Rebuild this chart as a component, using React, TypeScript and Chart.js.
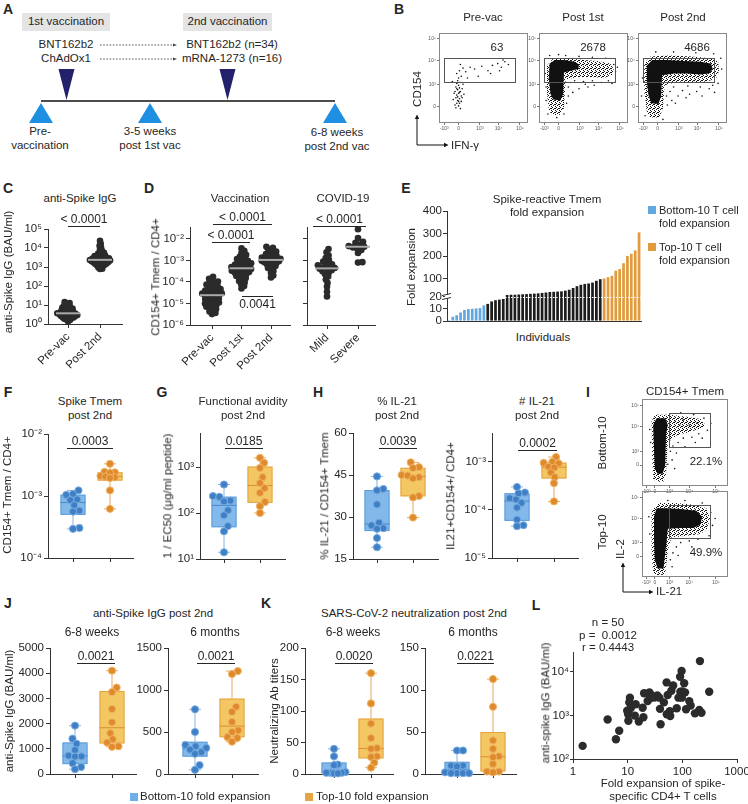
import React, { useEffect, useRef } from 'react';
import { Chart, registerables } from 'chart.js';

Chart.register(...registerables);

const FONT = '"Liberation Sans", Arial, Helvetica, sans-serif';
const INK = '#262626';
const AXIS = '#333333';

/* ============================ DATA ============================ */
// C – anti-Spike IgG (BAU/ml)
const cCategories = ['Pre-vac', 'Post 2nd'];
const cPreVac = [1.4, 1.6, 1.7, 1.9, 2.0, 2.0, 2.2, 2.3, 2.3, 2.5, 2.6, 2.7, 2.7, 2.9, 3.0, 3.0, 3.1, 3.3, 3.4, 3.4, 3.6, 3.7, 3.9, 4.0, 4.2, 4.5, 4.6, 4.9, 5.1, 5.4, 5.8, 6.1, 6.5, 7.0, 7.3, 8.1, 8.6, 9.0, 10.2, 11.5, 12.8, 14.1];
const cPost2nd = [780, 820, 950, 1050, 1150, 1200, 1300, 1350, 1420, 1500, 1550, 1600, 1680, 1720, 1800, 1850, 1900, 1980, 2050, 2100, 2150, 2200, 2280, 2350, 2400, 2480, 2550, 2650, 2750, 2850, 2950, 3100, 3250, 3400, 3600, 3800, 4000, 4300, 4700, 5100, 5600, 6200, 7100, 8200, 10500, 13000, 16500, 24000];
const cTicks = [1, 10, 100, 1000, 10000, 100000];

// D – CD154+ Tmem / CD4+
const dVacCategories = ['Pre-vac', 'Post 1st', 'Post 2nd'];
const dPreVac = [3.2e-6, 3.6e-6, 4.2e-6, 5.0e-6, 5.6e-6, 6.3e-6, 7.0e-6, 7.8e-6, 8.5e-6, 9.4e-6, 1.0e-5, 1.1e-5, 1.2e-5, 1.35e-5, 1.45e-5, 1.6e-5, 1.7e-5, 1.85e-5, 2.0e-5, 2.2e-5, 2.35e-5, 2.5e-5, 2.7e-5, 2.9e-5, 3.0e-5, 3.2e-5, 3.4e-5, 3.7e-5, 4.0e-5, 4.3e-5, 4.7e-5, 5.1e-5, 5.6e-5, 6.2e-5, 6.8e-5, 7.5e-5, 8.3e-5, 9.2e-5, 1.05e-4, 1.2e-4, 1.4e-4, 1.75e-4];
const dPost1st = [5.0e-5, 6.5e-5, 8.0e-5, 9.5e-5, 1.1e-4, 1.3e-4, 1.5e-4, 1.7e-4, 1.9e-4, 2.1e-4, 2.3e-4, 2.5e-4, 2.7e-4, 2.9e-4, 3.1e-4, 3.3e-4, 3.5e-4, 3.8e-4, 4.0e-4, 4.3e-4, 4.6e-4, 4.9e-4, 5.2e-4, 5.6e-4, 6.0e-4, 6.4e-4, 6.9e-4, 7.4e-4, 8.0e-4, 8.7e-4, 9.5e-4, 1.05e-3, 1.15e-3, 1.3e-3, 1.5e-3, 1.8e-3, 2.2e-3, 2.8e-3, 3.6e-3];
const dPost2nd = [1.6e-4, 2.0e-4, 2.6e-4, 3.2e-4, 3.8e-4, 4.4e-4, 5.0e-4, 5.5e-4, 6.0e-4, 6.6e-4, 7.1e-4, 7.6e-4, 8.1e-4, 8.6e-4, 9.0e-4, 9.5e-4, 1.0e-3, 1.05e-3, 1.1e-3, 1.15e-3, 1.2e-3, 1.28e-3, 1.35e-3, 1.45e-3, 1.55e-3, 1.65e-3, 1.8e-3, 1.95e-3, 2.1e-3, 2.3e-3, 2.6e-3, 2.9e-3, 3.3e-3, 3.8e-3, 4.3e-3];
const dCovidCategories = ['Mild', 'Severe'];
const dMild = [2.1e-5, 3.5e-5, 6.0e-5, 9.0e-5, 1.3e-4, 1.8e-4, 2.3e-4, 2.7e-4, 3.1e-4, 3.5e-4, 3.8e-4, 4.1e-4, 4.4e-4, 4.8e-4, 5.3e-4, 5.9e-4, 6.6e-4, 7.5e-4, 8.8e-4, 1.05e-3, 1.3e-3, 1.7e-3, 2.4e-3, 3.4e-3];
const dSevere = [7.9e-4, 8.3e-4, 2.2e-3, 3.0e-3, 3.6e-3, 4.0e-3, 4.3e-3, 4.6e-3, 5.4e-3, 6.5e-3, 7.2e-3, 1.1e-2, 2.8e-2];
const dTicks = [1e-6, 1e-5, 1e-4, 1e-3, 1e-2];

// E – fold expansion per individual (sorted)
const eBottom10 = [0.8, 3.5, 4.8, 7, 9, 9.8, 10, 10.3, 10.6, 12.8];
const eMiddle = [14, 16, 17, 17.5, 18, 27, 28, 28, 29, 30, 31, 32, 33, 34, 36, 38, 40, 41, 42, 43, 46, 50, 58, 66, 72, 76, 78, 82, 90, 97];
const eTop10 = [100, 106, 112, 135, 142, 168, 200, 210, 225, 305];
const eTickValues = [0, 10, 20, 100, 200, 300, 400];

// F – Spike Tmem post 2nd
const fBottom10 = [1.23e-3, 1.08e-3, 1.04e-3, 8.8e-4, 8.6e-4, 7.1e-4, 5.8e-4, 5.6e-4, 3.05e-4, 2.95e-4];
const fTop10 = [3.3e-3, 2.45e-3, 2.4e-3, 2.35e-3, 2.1e-3, 2.05e-3, 2.0e-3, 1.95e-3, 1.23e-3, 6.2e-4];
// G – functional avidity
const gBottom10 = [417, 234, 224, 186, 178, 115, 89, 52, 40, 14];
const gTop10 = [1585, 1230, 955, 603, 447, 347, 275, 174, 141, 100];
// H – % IL-21 and # IL-21
const hPctBottom10 = [44.5, 40, 39.5, 34.5, 28, 27, 26, 25.8, 22.5, 19.2];
const hPctTop10 = [49.5, 47.8, 47.5, 45, 44.8, 44.2, 43.8, 37.5, 37, 29.8];
const hNumBottom10 = [3.0e-4, 2.3e-4, 2.2e-4, 1.75e-4, 1.65e-4, 1.4e-4, 1.12e-4, 6.3e-5, 4.8e-5, 4.6e-5];
const hNumTop10 = [1.26e-3, 1.0e-3, 9.5e-4, 9.3e-4, 7.9e-4, 7.6e-4, 6.0e-4, 4.8e-4, 3.6e-4, 1.5e-4];
// J – anti-Spike IgG post 2nd
const jWeeksBottom10 = [1920, 1400, 1200, 950, 730, 700, 690, 430, 280, 190];
const jWeeksTop10 = [4100, 3430, 3250, 2580, 2050, 1620, 1380, 1250, 1100, 1080];
const jMonthsBottom10 = [770, 500, 345, 330, 310, 290, 260, 240, 105, 50];
const jMonthsTop10 = [1225, 1190, 800, 740, 620, 520, 500, 440, 430, 385];
// K – neutralizing titers
const kWeeksBottom10 = [40, 28, 15, 14, 3, 2, 2, 2, 1, 1];
const kWeeksTop10 = [160, 112, 80, 57, 41, 40, 28, 27, 18, 10];
const kMonthsBottom10 = [28, 28, 10, 10, 9, 2, 1, 1, 1, 1];
const kMonthsTop10 = [113, 80, 40, 30, 21, 20, 12, 3, 3, 2];
// L – correlation
const lFold = [1.5, 4.3, 6.1, 7, 9.8, 10.3, 10.7, 11, 11.4, 14, 13.5, 16, 18.8, 19.4, 20, 23.2, 25, 25.5, 30.8, 34.8, 38, 39, 40, 46, 51.6, 52, 54, 59, 60, 68, 79, 85, 91, 92, 97, 98, 100, 108, 112, 117, 134, 142, 170, 204, 210, 224, 310, 10.2, 27.5, 63];
const lIgG = [200, 810, 285, 445, 1290, 760, 2000, 2570, 1480, 1820, 995, 725, 1510, 910, 3240, 2140, 3400, 2500, 2590, 2880, 2570, 1420, 630, 2000, 5760, 1070, 2950, 1260, 970, 4900, 1470, 2570, 7740, 3530, 10500, 2570, 3550, 5500, 3400, 1390, 2140, 1690, 1120, 1340, 17800, 1160, 3500, 1070, 2880, 3700];

// Flow cytometry (display units 0-100 on biexponential axes)
const flowBXTicks = [6, 22, 46, 67, 91];
const flowIXTicks = [5, 15, 32, 55, 86];
const flowXLabels = ['-10³', '0', '10³', '10⁴', '10⁵'];
const flowBYTicks = [18, 43, 69, 94];
const flowIYTicks = [24, 40, 68, 92];
const flowYLabels = ['0', '10³', '10⁴', '10⁵'];
const b1Events = [[18,20],[20,22],[22,19],[21,25],[19,28],[23,27],[25,30],[20,31],[22,33],[18,35],[24,35],[21,37],[23,39],[19,40],[26,38],[22,42],[20,44],[24,45],[27,43],[21,47],[17,33],[25,24],[28,32],[16,26],[23,22],[26,28],[19,17],[24,16],[22,50],[25,52],[20,55],[23,58],[27,61],[24,65],[30,57],[35,62],[40,60],[48,63],[55,58],[60,64],[66,66],[70,62],[74,68],[78,65],[72,70],[58,55],[44,52],[68,58],[32,50],[15,46],[21,29],[23,34],[20,38],[22,24]];
const b2Core = [[[13,32],[16,26],[24,25],[27,32],[28,56],[36,58],[44,60],[45,65],[40,68],[28,70],[18,70],[12,66],[11,50]]];
const b2Halo = [[[11,14],[15,9],[23,9],[28,16],[30,48],[42,51],[58,51],[72,50],[82,53],[84,60],[80,66],[66,69],[50,70],[32,72],[16,72],[9,64],[9,34]]];
const b2Events = [[8,40],[7,55],[33,40],[35,45],[40,47],[50,46],[60,47],[70,45],[78,47],[86,57],[84,65],[75,72],[60,73],[45,74],[30,75],[22,76],[12,75],[55,40],[45,38],[62,42],[33,30],[31,22],[8,25],[10,10],[20,6],[28,10],[88,62],[82,44],[52,43],[38,34]];
const b3Core = [[[12,30],[15,22],[23,21],[26,30],[27,53],[40,55],[55,55],[70,54],[80,55],[84,60],[82,66],[70,68],[52,69],[32,70],[16,70],[10,64],[10,45]]];
const b3Halo = [[[10,12],[14,6],[24,6],[28,16],[30,42],[45,46],[62,45],[78,46],[88,50],[91,58],[90,68],[82,72],[60,74],[35,75],[14,74],[7,66],[7,35]]];
const b3Events = [[5,50],[4,30],[32,30],[36,35],[50,36],[66,35],[80,38],[90,44],[94,60],[93,72],[85,77],[65,78],[40,79],[20,79],[33,20],[38,25],[8,8],[28,4],[45,30],[58,32],[72,30],[54,28],[86,34],[42,22],[40,40],[56,41],[70,40],[84,42]];
const i1Core = [[[15,20],[18,14],[24,14],[27,24],[28,60],[30,70],[27,78],[17,78],[13,70],[14,40]]];
const i1Halo = [[[13,8],[17,5],[25,5],[28,14],[30,50],[40,58],[55,62],[68,66],[74,70],[68,77],[50,80],[32,82],[15,82],[11,74],[12,30]]];
const i1Events = [[33,40],[36,46],[42,50],[48,55],[58,56],[66,60],[76,64],[80,72],[72,78],[60,82],[45,84],[35,30],[40,38],[10,50],[9,65],[30,25],[38,20],[50,45],[62,50],[70,55],[55,70],[64,72],[44,70],[38,75],[48,76]];
const i2Core = [[[15,20],[18,10],[25,10],[28,36],[30,56],[45,57],[60,57],[68,61],[70,70],[63,77],[45,79],[28,80],[17,80],[14,70],[14,40]]];
const i2Halo = [[[13,4],[19,2],[27,3],[30,30],[34,46],[52,48],[68,50],[76,56],[79,68],[75,80],[60,84],[40,86],[20,86],[11,78],[11,30]]];
const i2Events = [[33,20],[36,28],[40,35],[45,40],[55,42],[65,44],[78,48],[82,60],[80,75],[70,86],[50,89],[30,89],[9,50],[8,70],[35,12],[42,25],[85,68],[58,35]];
const bGate = [6, 85, 46, 72];
const iGate = [31, 79, 45, 84];

/* ============================ STYLES ============================ */
const DARK = { fill: '#2b2b2b', stroke: '#2b2b2b' };
const BLUE = { fill: '#3E7FC5', stroke: '#78ACE0', boxFill: '#82B8EA', boxStroke: '#5D9EDB', whisker: '#86B6E4', median: '#4A89CC' };
const ORANGE = { fill: '#DF8A2B', stroke: '#F0B468', boxFill: '#F3C762', boxStroke: '#E6A446', whisker: '#E8A860', median: '#DB8E35' };
const BAR_BLUE = '#62A6E2';
const BAR_ORANGE = '#E19A3C';
const NAVY = '#23216b';
const SKY = '#1f8fe3';

/* ============================ HELPERS ============================ */
const SUP: any = { '-': '⁻', '0': '⁰', '1': '¹', '2': '²', '3': '³', '4': '⁴', '5': '⁵', '6': '⁶', '7': '⁷', '8': '⁸', '9': '⁹' };
const pow10 = (v: number) => '10' + String(Math.round(Math.log10(v))).split('').map((c) => SUP[c]).join('');

function quantile(s: number[], p: number) {
  const n = s.length;
  const pos = p * (n + 1) - 1;
  if (pos <= 0) return s[0];
  if (pos >= n - 1) return s[n - 1];
  const lo = Math.floor(pos);
  return s[lo] + (pos - lo) * (s[lo + 1] - s[lo]);
}
function stats(vals: number[]) {
  const s = [...vals].sort((a, b) => a - b);
  return { min: s[0], max: s[s.length - 1], q1: quantile(s, 0.25), med: quantile(s, 0.5), q3: quantile(s, 0.75) };
}

function swarm(py: number[], d: number) {
  const order = py.map((_, i) => i).sort((a, b) => py[a] - py[b]);
  const placed: { x: number; y: number }[] = [];
  const out = new Array(py.length).fill(0);
  for (const i of order) {
    const y = py[i];
    const cands = [0];
    for (const p of placed) {
      const dy = Math.abs(p.y - y);
      if (dy < d) {
        const dx = Math.sqrt(d * d - dy * dy);
        cands.push(p.x + dx, p.x - dx);
      }
    }
    cands.sort((a, b) => Math.abs(a) - Math.abs(b));
    let chosen = 0;
    for (const c of cands) {
      if (placed.every((p) => (p.x - c) ** 2 + (p.y - y) ** 2 >= d * d - 1e-6)) { chosen = c; break; }
    }
    placed.push({ x: chosen, y });
    out[i] = chosen;
  }
  return out;
}
// shrink the spacing until the swarm fits within +-maxHalf pixels
function swarmFit(py: number[], d: number, maxHalf: number) {
  let dd = d;
  let offs = swarm(py, dd);
  for (let k = 0; k < 30 && Math.max(...offs.map(Math.abs)) > maxHalf; k++) {
    dd *= 0.93;
    offs = swarm(py, dd);
  }
  return offs;
}

function baseOptions(pad: any) {
  return {
    responsive: false,
    maintainAspectRatio: false,
    animation: false,
    devicePixelRatio: 1,
    events: [],
    layout: { padding: { left: 0, top: pad.T, right: pad.R, bottom: 0 } },
    plugins: { legend: { display: false }, tooltip: { enabled: false }, title: { display: false } },
  };
}

function axis(o: any) {
  const isX = o.side === 'x';
  const col = o.color || AXIS;
  return {
    type: o.type || 'linear',
    position: isX ? 'bottom' : 'left',
    min: o.min,
    max: o.max,
    offset: false,
    border: { display: !o.noBorder, color: col, width: 1 },
    grid: { display: true, drawOnChartArea: false, drawTicks: true, tickLength: o.tickLen ?? 4, color: col, lineWidth: 1 },
    ticks: {
      display: !!o.labels,
      color: o.labelColor || INK,
      font: { family: FONT, size: o.fontSize || 11.5 },
      padding: o.tickPad ?? 2,
      autoSkip: false,
      maxRotation: o.rotate || 0,
      minRotation: o.rotate || 0,
      callback: (_v: any, i: number) => (o.labels ? o.labels[i] : ''),
    },
    afterBuildTicks: (s: any) => { s.ticks = o.tickVals.map((v: number) => ({ value: v })); },
    afterFit: (s: any) => { if (isX) s.height = o.size; else s.width = o.size; },
  };
}

function boxPlugin(items: any[]) {
  return {
    id: 'boxes',
    beforeDatasetsDraw(chart: any) {
      const { ctx, scales } = chart;
      const xs = scales.x, ys = scales.y;
      for (const it of items) {
        const st = stats(it.values);
        const cx = xs.getPixelForValue(it.x);
        const hw = 12.5, cap = 6;
        const p = (v: number) => ys.getPixelForValue(v);
        ctx.save();
        ctx.lineWidth = 1;
        ctx.strokeStyle = it.style.whisker;
        ctx.beginPath();
        ctx.moveTo(cx, p(st.max)); ctx.lineTo(cx, p(st.q3));
        ctx.moveTo(cx, p(st.q1)); ctx.lineTo(cx, p(st.min));
        ctx.moveTo(cx - cap, p(st.max)); ctx.lineTo(cx + cap, p(st.max));
        ctx.moveTo(cx - cap, p(st.min)); ctx.lineTo(cx + cap, p(st.min));
        ctx.stroke();
        const top = p(st.q3), bot = p(st.q1);
        ctx.fillStyle = it.style.boxFill;
        ctx.fillRect(cx - hw, top, 2 * hw, bot - top);
        ctx.strokeStyle = it.style.boxStroke;
        ctx.strokeRect(cx - hw + 0.5, top + 0.5, 2 * hw - 1, Math.max(bot - top - 1, 0));
        ctx.strokeStyle = it.style.median;
        ctx.beginPath();
        ctx.moveTo(cx - hw, p(st.med)); ctx.lineTo(cx + hw, p(st.med));
        ctx.stroke();
        ctx.restore();
      }
    },
  };
}

function medianPlugin(items: any[]) {
  return {
    id: 'medians',
    afterDatasetsDraw(chart: any) {
      const { ctx, scales } = chart;
      for (const it of items) {
        const st = stats(it.values);
        const cx = scales.x.getPixelForValue(it.x);
        const y = scales.y.getPixelForValue(st.med);
        ctx.save();
        ctx.strokeStyle = '#a9a9a9';
        ctx.lineWidth = 2;
        ctx.beginPath();
        ctx.moveTo(cx - 12, y); ctx.lineTo(cx + 12, y);
        ctx.stroke();
        ctx.restore();
      }
    },
  };
}

function groupChart(area: any, pad: any, o: any) {
  const h = area.b - area.t;
  const isLog = o.yType === 'log';
  const f = (v: number) => (isLog ? Math.log10(v) : v);
  const toPx = (v: number) => ((f(v) - f(o.yMin)) / (f(o.yMax) - f(o.yMin))) * h;
  const step = o.groupPx[1] - o.groupPx[0];
  const xMin = 1 - (o.groupPx[0] - area.l) / step;
  const xMax = xMin + (area.r - area.l) / step;
  const datasets = o.groups.map((g: any, gi: number) => {
    const offs = swarmFit(g.values.map(toPx), o.minDist, o.maxHalf ?? 99);
    return {
      data: g.values.map((v: number, i: number) => ({ x: gi + 1 + offs[i] / step, y: v })),
      showLine: false,
      clip: false,
      pointRadius: o.pointR,
      pointHoverRadius: o.pointR,
      pointBackgroundColor: g.style.fill,
      pointBorderColor: g.style.stroke,
      pointBorderWidth: o.pointBorder ?? 0,
    };
  });
  const plugins: any[] = [];
  if (o.box) plugins.push(boxPlugin(o.groups.map((g: any, gi: number) => ({ x: gi + 1, values: g.values, style: g.style }))));
  if (o.median) plugins.push(medianPlugin(o.groups.map((g: any, gi: number) => ({ x: gi + 1, values: g.values }))));
  return {
    type: 'scatter',
    data: { datasets },
    options: {
      ...baseOptions(pad),
      scales: {
        x: axis({ side: 'x', size: pad.B, min: xMin, max: xMax, tickVals: o.groups.map((_: any, i: number) => i + 1), labels: o.xLabels || null, rotate: o.rotate || 0 }),
        y: axis({ side: 'y', size: pad.L, type: isLog ? 'logarithmic' : 'linear', min: o.yMin, max: o.yMax, tickVals: o.yTicks, labels: o.yLabels, tickPad: o.yTickPad ?? 2 }),
      },
    },
    plugins,
  };
}

const E_LOW = 25, E_HIGH = 87;
const brk = (v: number) => (v <= 20 ? (v * E_LOW) / 20 : E_LOW + ((v - 20) * E_HIGH) / 380);

function eChart(_area: any, pad: any) {
  const vals = [...eBottom10, ...eMiddle, ...eTop10];
  const colors = [...eBottom10.map(() => BAR_BLUE), ...eMiddle.map(() => '#1c1c1c'), ...eTop10.map(() => BAR_ORANGE)];
  return {
    type: 'bar',
    data: {
      labels: vals.map((_, i) => 'Individual ' + (i + 1)),
      datasets: [{ data: vals.map(brk), backgroundColor: colors, barPercentage: 0.7, categoryPercentage: 1, borderWidth: 0 }],
    },
    options: {
      ...baseOptions(pad),
      scales: {
        x: { type: 'category', offset: true, border: { display: true, color: AXIS, width: 1 }, grid: { display: true, drawOnChartArea: false, drawTicks: false }, ticks: { display: false }, afterFit: (s: any) => { s.height = pad.B; } },
        y: axis({ side: 'y', size: pad.L, min: 0, max: E_LOW + E_HIGH, tickVals: eTickValues.map(brk), labels: eTickValues.map(String), tickPad: 1 }),
      },
    },
    plugins: [{
      id: 'axisBreak',
      afterDatasetsDraw(chart: any) {
        const { ctx, chartArea: ca, scales } = chart;
        const y = Math.round(scales.y.getPixelForValue(E_LOW)) + 0.5;
        ctx.save();
        ctx.strokeStyle = '#ffffff';
        ctx.lineWidth = 1;
        ctx.setLineDash([1.5, 1.5]);
        ctx.beginPath(); ctx.moveTo(ca.left + 1, y); ctx.lineTo(ca.right, y); ctx.stroke();
        ctx.restore();
      },
      afterDraw(chart: any) {
        const { ctx, chartArea: ca, scales } = chart;
        const y = scales.y.getPixelForValue(E_LOW);
        const x = ca.left;
        ctx.save();
        ctx.fillStyle = '#ffffff';
        ctx.fillRect(x - 2, y - 2, 4, 4);
        ctx.strokeStyle = AXIS;
        ctx.lineWidth = 1;
        ctx.beginPath();
        ctx.moveTo(x - 5, y - 1); ctx.lineTo(x + 4, y - 3);
        ctx.moveTo(x - 5, y + 3); ctx.lineTo(x + 4, y + 1);
        ctx.stroke();
        ctx.restore();
      },
    }],
  };
}

function lChart(_area: any, pad: any) {
  return {
    type: 'scatter',
    data: { datasets: [{ data: lFold.map((x, i) => ({ x, y: lIgG[i] })), showLine: false, clip: false, pointRadius: 4.2, pointBackgroundColor: '#2b2b2b', pointBorderWidth: 0 }] },
    options: {
      ...baseOptions(pad),
      scales: {
        x: axis({ side: 'x', size: pad.B, type: 'logarithmic', min: 1, max: 1000, tickVals: [1, 10, 100, 1000], labels: ['1', '10', '100', '1000'] }),
        y: axis({ side: 'y', size: pad.L, type: 'logarithmic', min: 100, max: 28800, tickVals: [100, 1000, 10000], labels: [100, 1000, 10000].map(pow10), tickLen: 3, tickPad: 1 }),
      },
    },
  };
}

let patCanvas: HTMLCanvasElement | null = null;
function patternCanvas() {
  if (!patCanvas) {
    patCanvas = document.createElement('canvas');
    patCanvas.width = 4; patCanvas.height = 4;
    const g = patCanvas.getContext('2d')!;
    g.fillStyle = '#111';
    [[0, 0], [2, 1], [1, 3], [3, 2], [2, 3]].forEach(([a, b]) => g.fillRect(a, b, 1, 1));
  }
  return patCanvas;
}

function flowChart(_area: any, pad: any, f: any) {
  return {
    type: 'scatter',
    data: { datasets: [{ data: f.events.map(([x, y]: number[]) => ({ x, y })), showLine: false, pointRadius: 0.8, pointBackgroundColor: '#111', pointBorderWidth: 0 }] },
    options: {
      ...baseOptions(pad),
      scales: {
        x: axis({ side: 'x', size: pad.B, min: 0, max: 100, tickVals: f.xTicks, labels: flowXLabels, fontSize: 5, tickLen: 2, tickPad: 1, color: '#777', labelColor: '#555', noBorder: true }),
        y: axis({ side: 'y', size: pad.L, min: 0, max: 100, tickVals: f.yTicks, labels: flowYLabels, fontSize: 5, tickLen: 2, tickPad: 1, color: '#777', labelColor: '#555', noBorder: true }),
      },
    },
    plugins: [{
      id: 'flow',
      beforeDatasetsDraw(chart: any) {
        const { ctx, scales: { x, y }, chartArea: ca } = chart;
        const pat = ctx.createPattern(patternCanvas(), 'repeat');
        const poly = (pts: number[][]) => {
          ctx.beginPath();
          pts.forEach(([a, b], i) => {
            const px = x.getPixelForValue(a), py = y.getPixelForValue(b);
            if (i) ctx.lineTo(px, py); else ctx.moveTo(px, py);
          });
          ctx.closePath();
        };
        ctx.save();
        ctx.beginPath(); ctx.rect(ca.left, ca.top, ca.width, ca.height); ctx.clip();
        (f.halo || []).forEach((p: number[][]) => { poly(p); ctx.fillStyle = pat; ctx.fill(); });
        (f.core || []).forEach((p: number[][]) => { poly(p); ctx.fillStyle = '#111'; ctx.fill(); });
        ctx.restore();
      },
      afterDraw(chart: any) {
        const { ctx, scales: { x, y }, chartArea: ca } = chart;
        ctx.save();
        ctx.lineWidth = 1;
        ctx.strokeStyle = '#888';
        ctx.strokeRect(ca.left + 0.5, ca.top + 0.5, ca.width - 1, ca.height - 1);
        const g = f.gate;
        const x1 = Math.round(x.getPixelForValue(g[0])), x2 = Math.round(x.getPixelForValue(g[1]));
        const y1 = Math.round(y.getPixelForValue(g[3])), y2 = Math.round(y.getPixelForValue(g[2]));
        ctx.strokeStyle = '#555';
        ctx.strokeRect(x1 + 0.5, y1 + 0.5, x2 - x1, y2 - y1);
        ctx.restore();
      },
    }],
  };
}

/* ============================ COMPONENTS ============================ */
function ChartCanvas({ area, pad, make }: any) {
  const ref = useRef<HTMLCanvasElement | null>(null);
  useEffect(() => {
    if (!ref.current) return;
    const chart = new Chart(ref.current, make(area, pad) as any);
    return () => chart.destroy();
  }, []);
  const w = area.r - area.l + pad.L + pad.R;
  const h = area.b - area.t + pad.T + pad.B;
  return (
    <canvas ref={ref} width={w} height={h}
      style={{ position: 'absolute', left: area.l - pad.L, top: area.t - pad.T, width: w, height: h }} />
  );
}

const Txt = ({ x, y, s = 11.5, b = false, rot = false, left = false, color = INK, children }: any) => (
  <div style={{
    position: 'absolute', left: x, top: y,
    transform: `translate(${left ? '0' : '-50%'}, -50%)${rot ? ' rotate(-90deg)' : ''}`,
    fontSize: s, fontWeight: b ? 700 : 400, lineHeight: 1, whiteSpace: 'pre', color, fontFamily: FONT,
  }}>{children}</div>
);

const Bracket = ({ x1, x2, y, label, ty }: any) => (
  <>
    <div style={{ position: 'absolute', left: x1, top: y, width: x2 - x1, height: 0, borderTop: `1px solid ${INK}` }} />
    <Txt x={(x1 + x2) / 2} y={ty} s={12}>{label}</Txt>
  </>
);

const Square = ({ x, y, c }: any) => (
  <div style={{ position: 'absolute', left: x, top: y, width: 8, height: 8, background: c }} />
);

const PAD_BOX = { L: 44, T: 10, R: 10, B: 12 };
const PAD_FLOW = { L: 14, T: 4, R: 6, B: 10 };

const logLabels = (arr: number[]) => arr.map(pow10);

const charts: any[] = [
  { key: 'C', area: { l: 48, t: 229, r: 122, b: 324 }, pad: { L: 44, T: 10, R: 12, B: 52 },
    make: (a: any, p: any) => groupChart(a, p, { yType: 'log', yMin: 1, yMax: 1e5, yTicks: cTicks, yLabels: logLabels(cTicks), groupPx: [68, 100],
      groups: [{ values: cPreVac, style: DARK }, { values: cPost2nd, style: DARK }], minDist: 3.8, maxHalf: 11, pointR: 3.3, xLabels: cCategories, rotate: 45, median: true }) },
  { key: 'Dv', area: { l: 190, t: 227, r: 290, b: 325 }, pad: { L: 34, T: 10, R: 8, B: 52 },
    make: (a: any, p: any) => groupChart(a, p, { yType: 'log', yMin: 1e-6, yMax: 0.0355, yTicks: dTicks, yLabels: logLabels(dTicks), groupPx: [212, 241.5, 271],
      groups: [{ values: dPreVac, style: DARK }, { values: dPost1st, style: DARK }, { values: dPost2nd, style: DARK }], minDist: 4.8, maxHalf: 11, pointR: 3.3, xLabels: dVacCategories, rotate: 45, median: true }) },
  { key: 'Dc', area: { l: 307, t: 227, r: 375, b: 325 }, pad: { L: 8, T: 10, R: 10, B: 52 },
    make: (a: any, p: any) => groupChart(a, p, { yType: 'log', yMin: 1e-6, yMax: 0.0355, yTicks: dTicks, yLabels: null, groupPx: [327, 358],
      groups: [{ values: dMild, style: DARK }, { values: dSevere, style: DARK }], minDist: 5.5, maxHalf: 10, pointR: 3.3, xLabels: dCovidCategories, rotate: 45, median: true }) },
  { key: 'E', area: { l: 447, t: 211, r: 641, b: 323 }, pad: { L: 40, T: 10, R: 6, B: 6 }, make: eChart },
  { key: 'F', area: { l: 48, t: 434, r: 133, b: 558 }, pad: PAD_BOX,
    make: (a: any, p: any) => groupChart(a, p, { yType: 'log', yMin: 1e-4, yMax: 1e-2, yTicks: [1e-4, 1e-3, 1e-2], yLabels: logLabels([1e-4, 1e-3, 1e-2]), groupPx: [73, 110],
      groups: [{ values: fBottom10, style: BLUE }, { values: fTop10, style: ORANGE }], minDist: 6.5, maxHalf: 12, pointR: 3.6, pointBorder: 1, box: true }) },
  { key: 'G', area: { l: 200, t: 433, r: 285, b: 559 }, pad: PAD_BOX,
    make: (a: any, p: any) => groupChart(a, p, { yType: 'log', yMin: 10, yMax: 5500, yTicks: [10, 100, 1000], yLabels: logLabels([10, 100, 1000]), groupPx: [224, 260],
      groups: [{ values: gBottom10, style: BLUE }, { values: gTop10, style: ORANGE }], minDist: 6.5, maxHalf: 12, pointR: 3.6, pointBorder: 1, box: true }) },
  { key: 'H1', area: { l: 353, t: 433, r: 438, b: 559 }, pad: PAD_BOX,
    make: (a: any, p: any) => groupChart(a, p, { yType: 'linear', yMin: 15, yMax: 60, yTicks: [15, 30, 45, 60], yLabels: ['15', '30', '45', '60'], groupPx: [377, 413],
      groups: [{ values: hPctBottom10, style: BLUE }, { values: hPctTop10, style: ORANGE }], minDist: 6.5, maxHalf: 12, pointR: 3.6, pointBorder: 1, box: true }) },
  { key: 'H2', area: { l: 492, t: 433, r: 578, b: 558 }, pad: PAD_BOX,
    make: (a: any, p: any) => groupChart(a, p, { yType: 'log', yMin: 1e-5, yMax: 0.00398, yTicks: [1e-5, 1e-4, 1e-3], yLabels: logLabels([1e-5, 1e-4, 1e-3]), groupPx: [517, 554],
      groups: [{ values: hNumBottom10, style: BLUE }, { values: hNumTop10, style: ORANGE }], minDist: 6.5, maxHalf: 12, pointR: 3.6, pointBorder: 1, box: true }) },
  { key: 'J1', area: { l: 50, t: 648, r: 136, b: 774 }, pad: { L: 48, T: 10, R: 10, B: 12 },
    make: (a: any, p: any) => groupChart(a, p, { yType: 'linear', yMin: 0, yMax: 5000, yTicks: [0, 1000, 2000, 3000, 4000, 5000], yLabels: ['0', '1000', '2000', '3000', '4000', '5000'], groupPx: [75, 112],
      groups: [{ values: jWeeksBottom10, style: BLUE }, { values: jWeeksTop10, style: ORANGE }], minDist: 6.5, maxHalf: 12, pointR: 3.6, pointBorder: 1, box: true }) },
  { key: 'J2', area: { l: 168, t: 648, r: 258, b: 774 }, pad: { L: 40, T: 10, R: 10, B: 12 },
    make: (a: any, p: any) => groupChart(a, p, { yType: 'linear', yMin: 0, yMax: 1500, yTicks: [0, 500, 1000, 1500], yLabels: ['0', '500', '1000', '1500'], groupPx: [195, 232],
      groups: [{ values: jMonthsBottom10, style: BLUE }, { values: jMonthsTop10, style: ORANGE }], minDist: 6.5, maxHalf: 12, pointR: 3.6, pointBorder: 1, box: true }) },
  { key: 'K1', area: { l: 305, t: 648, r: 393, b: 774 }, pad: { L: 36, T: 10, R: 10, B: 12 },
    make: (a: any, p: any) => groupChart(a, p, { yType: 'linear', yMin: 0, yMax: 200, yTicks: [0, 50, 100, 150, 200], yLabels: ['0', '50', '100', '150', '200'], groupPx: [334, 371],
      groups: [{ values: kWeeksBottom10, style: BLUE }, { values: kWeeksTop10, style: ORANGE }], minDist: 6, maxHalf: 12, pointR: 3.6, pointBorder: 1, box: true }) },
  { key: 'K2', area: { l: 425, t: 648, r: 516, b: 774 }, pad: { L: 36, T: 10, R: 10, B: 12 },
    make: (a: any, p: any) => groupChart(a, p, { yType: 'linear', yMin: 0, yMax: 150, yTicks: [0, 50, 100, 150], yLabels: ['0', '50', '100', '150'], groupPx: [457, 493],
      groups: [{ values: kMonthsBottom10, style: BLUE }, { values: kMonthsTop10, style: ORANGE }], minDist: 6, maxHalf: 12, pointR: 3.6, pointBorder: 1, box: true }) },
  { key: 'L', area: { l: 573, t: 652, r: 737, b: 759 }, pad: { L: 36, T: 10, R: 16, B: 20 }, make: lChart },
  { key: 'B1', area: { l: 439, t: 33, r: 528, b: 123 }, pad: PAD_FLOW,
    make: (a: any, p: any) => flowChart(a, p, { events: b1Events, core: [], halo: [], gate: bGate, xTicks: flowBXTicks, yTicks: flowBYTicks }) },
  { key: 'B2', area: { l: 539, t: 33, r: 628, b: 123 }, pad: PAD_FLOW,
    make: (a: any, p: any) => flowChart(a, p, { events: b2Events, core: b2Core, halo: b2Halo, gate: bGate, xTicks: flowBXTicks, yTicks: flowBYTicks }) },
  { key: 'B3', area: { l: 638, t: 33, r: 727, b: 123 }, pad: PAD_FLOW,
    make: (a: any, p: any) => flowChart(a, p, { events: b3Events, core: b3Core, halo: b3Halo, gate: bGate, xTicks: flowBXTicks, yTicks: flowBYTicks }) },
  { key: 'I1', area: { l: 642, t: 399, r: 728, b: 486 }, pad: PAD_FLOW,
    make: (a: any, p: any) => flowChart(a, p, { events: i1Events, core: i1Core, halo: i1Halo, gate: iGate, xTicks: flowIXTicks, yTicks: flowIYTicks }) },
  { key: 'I2', area: { l: 642, t: 491, r: 728, b: 577 }, pad: PAD_FLOW,
    make: (a: any, p: any) => flowChart(a, p, { events: i2Events, core: i2Core, halo: i2Halo, gate: iGate, xTicks: flowIXTicks, yTicks: flowIYTicks }) },
];

function Schematic() {
  return (
    <svg width={748} height={804} style={{ position: 'absolute', left: 0, top: 0 }}>
      {/* A timeline */}
      <line x1={41} y1={101} x2={335} y2={101} stroke="#111" strokeWidth={1.5} />
      <polygon points="58.5,69 74.5,69 66.5,100" fill={NAVY} />
      <polygon points="219.5,69 235.5,69 227.5,100" fill={NAVY} />
      {[41, 150, 335].map((x) => (
        <polygon key={x} points={`${x},103 ${x - 12},123 ${x + 12},123`} fill={SKY} />
      ))}
      {[45, 59].map((y) => (
        <g key={y}>
          <line x1={100} y1={y} x2={173} y2={y} stroke="#444" strokeWidth={0.9} strokeDasharray="1.6 1.6" />
          <polygon points={`173,${y - 1.6} 177,${y} 173,${y + 1.6}`} fill="#444" />
        </g>
      ))}
      {/* B axis arrows */}
      <line x1={417} y1={145} x2={417} y2={118} stroke="#111" strokeWidth={1} />
      <polygon points="414.8,119 417,114.5 419.2,119" fill="#111" />
      <line x1={417} y1={145} x2={445} y2={145} stroke="#111" strokeWidth={1} />
      <polygon points="444,142.8 448.5,145 444,147.2" fill="#111" />
      {/* I axis arrows */}
      <line x1={623} y1={592} x2={623} y2={566} stroke="#111" strokeWidth={1} />
      <polygon points="620.8,567 623,562.5 625.2,567" fill="#111" />
      <line x1={623} y1={592} x2={650} y2={592} stroke="#111" strokeWidth={1} />
      <polygon points="649,589.8 653.5,592 649,594.2" fill="#111" />
    </svg>
  );
}

export default function App() {
  return (
    <div style={{ position: 'absolute', left: 0, top: 0, width: 748, height: 804, background: '#fff', overflow: 'hidden', fontFamily: FONT }}>
      <Schematic />
      {charts.map((c) => <ChartCanvas key={c.key} area={c.area} pad={c.pad} make={c.make} />)}

      {/* Panel letters */}
      {[['A', 8, 9], ['B', 399, 9], ['C', 8, 188], ['D', 149, 188], ['E', 406, 188], ['F', 8, 392], ['G', 162, 392], ['H', 318, 392], ['I', 588, 392], ['J', 8, 603], ['K', 266, 603], ['L', 536, 605]].map(([t, x, y]: any) => (
        <Txt key={t} x={x} y={y} s={14} b>{t}</Txt>
      ))}

      {/* A */}
      <div style={{ position: 'absolute', left: 22, top: 13, width: 88, height: 18, background: '#e4e4e4' }} />
      <div style={{ position: 'absolute', left: 183, top: 13, width: 89, height: 18, background: '#e4e4e4' }} />
      <Txt x={66} y={22}>1st vaccination</Txt>
      <Txt x={227.5} y={22}>2nd vaccination</Txt>
      <Txt x={66} y={45}>BNT162b2</Txt>
      <Txt x={66} y={59}>ChAdOx1</Txt>
      <Txt x={232} y={45}>BNT162b2 (n=34)</Txt>
      <Txt x={232} y={59}>mRNA-1273 (n=16)</Txt>
      <Txt x={40} y={132}>Pre-</Txt>
      <Txt x={40} y={146}>vaccination</Txt>
      <Txt x={150} y={132}>3-5 weeks</Txt>
      <Txt x={150} y={146}>post 1st vac</Txt>
      <Txt x={337} y={133}>6-8 weeks</Txt>
      <Txt x={337} y={147}>post 2nd vac</Txt>

      {/* B */}
      <Txt x={483} y={18}>Pre-vac</Txt>
      <Txt x={583} y={18}>Post 1st</Txt>
      <Txt x={683} y={18}>Post 2nd</Txt>
      <Txt x={497} y={48}>63</Txt>
      <Txt x={593} y={48}>2678</Txt>
      <Txt x={697} y={48}>4686</Txt>
      <Txt x={418} y={89} rot>CD154</Txt>
      <Txt x={451} y={146} left>IFN-γ</Txt>

      {/* C */}
      <Txt x={80} y={199}>anti-Spike IgG</Txt>
      <Bracket x1={68} x2={100} y={226} ty={219} label="< 0.0001" />
      <Txt x={9} y={272} rot>anti-Spike IgG (BAU/ml)</Txt>

      {/* D */}
      <Txt x={240} y={199}>Vaccination</Txt>
      <Txt x={343} y={199}>COVID-19</Txt>
      <Txt x={156} y={277} rot>CD154+ Tmem / CD4+</Txt>
      <Bracket x1={213} x2={272} y={224} ty={217} label="< 0.0001" />
      <Bracket x1={212} x2={250} y={242} ty={235} label="< 0.0001" />
      <Bracket x1={242} x2={273} y={296} ty={304} label="0.0041" />
      <Bracket x1={313} x2={366} y={226} ty={219} label="< 0.0001" />

      {/* E */}
      <Txt x={547} y={200}>Spike-reactive Tmem</Txt>
      <Txt x={547} y={213}>fold expansion</Txt>
      <Txt x={412} y={267} rot>Fold expansion</Txt>
      <Txt x={543} y={338}>Individuals</Txt>
      <Square x={648} y={206} c={BAR_BLUE} />
      <Txt x={659} y={210} left s={11}>Bottom-10 T cell</Txt>
      <Txt x={659} y={223} left s={11}>fold expansion</Txt>
      <Square x={648} y={243} c={BAR_ORANGE} />
      <Txt x={659} y={247} left s={11}>Top-10 T cell</Txt>
      <Txt x={659} y={260} left s={11}>fold expansion</Txt>

      {/* F */}
      <Txt x={90} y={402}>Spike Tmem</Txt>
      <Txt x={90} y={416}>post 2nd</Txt>
      <Bracket x1={67} x2={113} y={448} ty={441} label="0.0003" />
      <Txt x={8} y={495} rot>CD154+ Tmem / CD4+</Txt>

      {/* G */}
      <Txt x={243} y={402}>Functional avidity</Txt>
      <Txt x={243} y={416}>post 2nd</Txt>
      <Bracket x1={225} x2={263} y={448} ty={441} label="0.0185" />
      <Txt x={168} y={496} rot>1 / EC50 (μg/ml peptide)</Txt>

      {/* H */}
      <Txt x={397} y={402}>% IL-21</Txt>
      <Txt x={397} y={416}>post 2nd</Txt>
      <Bracket x1={379} x2={417} y={448} ty={441} label="0.0039" />
      <Txt x={325} y={496} rot>% IL-21 / CD154+ Tmem</Txt>
      <Txt x={537} y={402}># IL-21</Txt>
      <Txt x={537} y={416}>post 2nd</Txt>
      <Bracket x1={518} x2={557} y={450} ty={443} label="0.0002" />
      <Txt x={451} y={496} rot>IL21+CD154+/ CD4+</Txt>

      {/* I */}
      <Txt x={685} y={392}>CD154+ Tmem</Txt>
      <Txt x={603} y={443} rot>Bottom-10</Txt>
      <Txt x={603} y={532} rot>Top-10</Txt>
      <Txt x={706} y={462}>22.1%</Txt>
      <Txt x={706} y={553}>49.9%</Txt>
      <Txt x={621} y={549} rot>IL-2</Txt>
      <Txt x={656} y={592} left>IL-21</Txt>

      {/* J */}
      <Txt x={153} y={614}>anti-Spike IgG post 2nd</Txt>
      <Txt x={92} y={632} s={12}>6-8 weeks</Txt>
      <Txt x={215} y={632} s={12}>6 months</Txt>
      <Bracket x1={77} x2={115} y={663} ty={656} label="0.0021" />
      <Bracket x1={197} x2={235} y={663} ty={656} label="0.0021" />
      <Txt x={10} y={711} rot>anti-Spike IgG (BAU/ml)</Txt>

      {/* K */}
      <Txt x={414} y={614}>SARS-CoV-2 neutralization post 2nd</Txt>
      <Txt x={353} y={632} s={12}>6-8 weeks</Txt>
      <Txt x={473} y={632} s={12}>6 months</Txt>
      <Bracket x1={335} x2={373} y={663} ty={656} label="0.0020" />
      <Bracket x1={457} x2={494} y={663} ty={656} label="0.0221" />
      <Txt x={275} y={711} rot>Neutralizing Ab titers</Txt>

      {/* Bottom legend */}
      <Square x={130} y={793} c="#6FAEE6" />
      <Txt x={140} y={797} left>Bottom-10 fold expansion</Txt>
      <Square x={305} y={793} c="#E6A443" />
      <Txt x={316} y={797} left>Top-10 fold expansion</Txt>

      {/* L */}
      <Txt x={608} y={623}>n = 50</Txt>
      <Txt x={608} y={636}>p =  0.0012</Txt>
      <Txt x={608} y={648}>r = 0.4443</Txt>
      <Txt x={546} y={703} rot>anti-spike IgG (BAU/ml)</Txt>
      <Txt x={663} y={784}>Fold expansion of spike-</Txt>
      <Txt x={663} y={797}>specific CD4+ T cells</Txt>
    </div>
  );
}
